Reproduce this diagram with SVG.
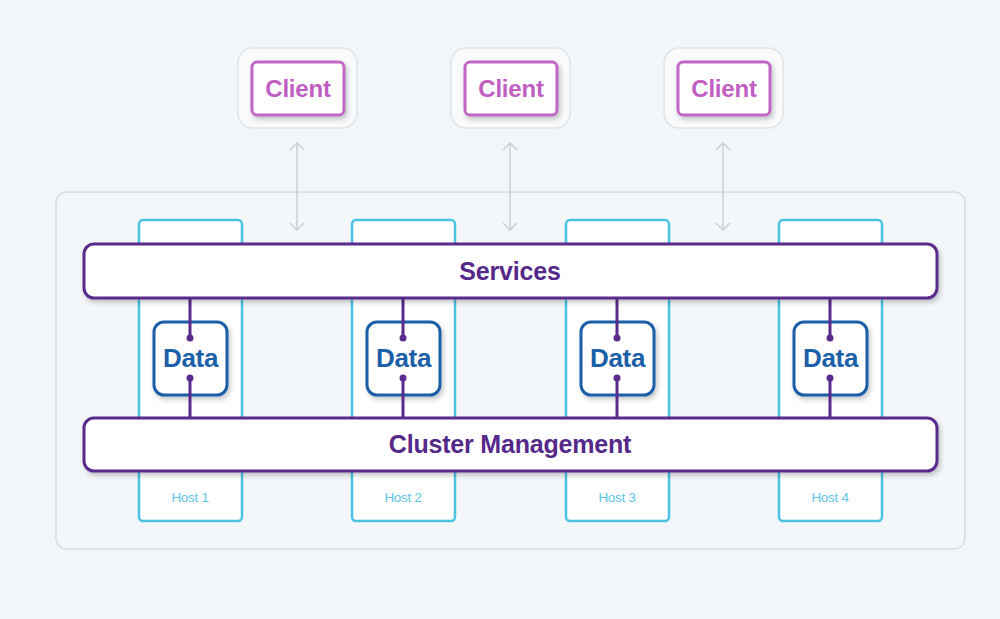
<svg xmlns="http://www.w3.org/2000/svg" width="1000" height="619" viewBox="0 0 1000 619">
<defs>
<filter id="sh" x="-10%" y="-20%" width="130%" height="160%">
<feDropShadow dx="2" dy="3" stdDeviation="2.5" flood-color="#000" flood-opacity="0.22"/>
</filter>
<marker id="ah" viewBox="0 0 16 16" refX="8" refY="8" markerWidth="16" markerHeight="16" markerUnits="userSpaceOnUse" orient="auto-start-reverse">
<path d="M1,1 L8,8 L1,15" fill="none" stroke="#cfd2d4" stroke-width="1.6"/>
</marker>
<style>
.bg{fill:#f1f6f9}
.cont{fill:#f3f7f9;stroke:#d8dcdf;stroke-width:1.5}
.cout{fill:#f9fafb;stroke:#e1e3e5;stroke-width:1.5}
.cin{fill:#fff;stroke:#c266c4;stroke-width:3}
.ctxt{font-family:"Liberation Sans",Arial,sans-serif;font-weight:bold;font-size:24px;letter-spacing:-0.2px;fill:#c05ec2;text-anchor:middle}
.host{fill:#fff;stroke:#4cc3e3;stroke-width:2.5}
.htxt{font-family:"Liberation Sans",Arial,sans-serif;font-size:13.5px;letter-spacing:-0.3px;fill:#5cc6e4;text-anchor:middle}
.bar{fill:#fff;stroke:#5a2a8c;stroke-width:3}
.btxt{font-family:"Liberation Sans",Arial,sans-serif;font-weight:bold;font-size:25px;letter-spacing:-0.2px;fill:#55288a;text-anchor:middle}
.data{fill:#fff;stroke:#1b5fa8;stroke-width:3}
.dtxt{font-family:"Liberation Sans",Arial,sans-serif;font-weight:bold;font-size:26px;letter-spacing:-0.3px;fill:#1b5fa8;text-anchor:middle}
.arr{stroke:#cfd2d4;stroke-width:1.6;fill:none}
.lnk{stroke:#5a2a8c;stroke-width:3;fill:none}
.dot{fill:#5a2a8c}
</style>
</defs>
<rect class="bg" x="0" y="0" width="1000" height="619"/>
<g id="cluster">
<rect class="cont" x="56" y="192" width="909" height="357" rx="11"/>
</g>
<g id="client1">
<rect class="cout" x="238" y="48" width="119" height="80" rx="15"/>
<rect class="cin" x="252" y="62" width="92" height="53" rx="5" filter="url(#sh)"/>
<text class="ctxt" x="298" y="97">Client</text>
</g>
<g id="client2">
<rect class="cout" x="451" y="48" width="119" height="80" rx="15"/>
<rect class="cin" x="465" y="62" width="92" height="53" rx="5" filter="url(#sh)"/>
<text class="ctxt" x="511" y="97">Client</text>
</g>
<g id="client3">
<rect class="cout" x="664" y="48" width="119" height="80" rx="15"/>
<rect class="cin" x="678" y="62" width="92" height="53" rx="5" filter="url(#sh)"/>
<text class="ctxt" x="724" y="97">Client</text>
</g>
<g id="host1">
<rect class="host" x="139" y="220" width="103" height="301" rx="4"/>
<text class="htxt" x="190" y="502">Host 1</text>
</g>
<g id="host2">
<rect class="host" x="352" y="220" width="103" height="301" rx="4"/>
<text class="htxt" x="403" y="502">Host 2</text>
</g>
<g id="host3">
<rect class="host" x="566" y="220" width="103" height="301" rx="4"/>
<text class="htxt" x="617" y="502">Host 3</text>
</g>
<g id="host4">
<rect class="host" x="779" y="220" width="103" height="301" rx="4"/>
<text class="htxt" x="830" y="502">Host 4</text>
</g>
<g id="connectors">
<line class="arr" x1="297" y1="143" x2="297" y2="230" marker-start="url(#ah)" marker-end="url(#ah)"/>
<line class="arr" x1="510" y1="143" x2="510" y2="230" marker-start="url(#ah)" marker-end="url(#ah)"/>
<line class="arr" x1="723" y1="143" x2="723" y2="230" marker-start="url(#ah)" marker-end="url(#ah)"/>
</g>
<g id="data1">
<rect class="data" x="154" y="322" width="73" height="73" rx="10" filter="url(#sh)"/>
<text class="dtxt" x="190.5" y="367">Data</text>
</g>
<g id="data2">
<rect class="data" x="367" y="322" width="73" height="73" rx="10" filter="url(#sh)"/>
<text class="dtxt" x="403.5" y="367">Data</text>
</g>
<g id="data3">
<rect class="data" x="581" y="322" width="73" height="73" rx="10" filter="url(#sh)"/>
<text class="dtxt" x="617.5" y="367">Data</text>
</g>
<g id="data4">
<rect class="data" x="794" y="322" width="73" height="73" rx="10" filter="url(#sh)"/>
<text class="dtxt" x="830.5" y="367">Data</text>
</g>
<g id="links">
<path class="lnk" d="M190,298 V338 M190,378 V418 M403,298 V338 M403,378 V418 M617,298 V338 M617,378 V418 M830,298 V338 M830,378 V418"/>
<circle class="dot" cx="190" cy="338" r="3.5"/><circle class="dot" cx="190" cy="378" r="3.5"/>
<circle class="dot" cx="403" cy="338" r="3.5"/><circle class="dot" cx="403" cy="378" r="3.5"/>
<circle class="dot" cx="617" cy="338" r="3.5"/><circle class="dot" cx="617" cy="378" r="3.5"/>
<circle class="dot" cx="830" cy="338" r="3.5"/><circle class="dot" cx="830" cy="378" r="3.5"/>
</g>
<g id="services">
<rect class="bar" x="84" y="244" width="853" height="54" rx="10" filter="url(#sh)"/>
<text class="btxt" x="510" y="280">Services</text>
</g>
<g id="management">
<rect class="bar" x="84" y="418" width="853" height="53" rx="10" filter="url(#sh)"/>
<text class="btxt" x="510" y="453">Cluster Management</text>
</g>
</svg>
